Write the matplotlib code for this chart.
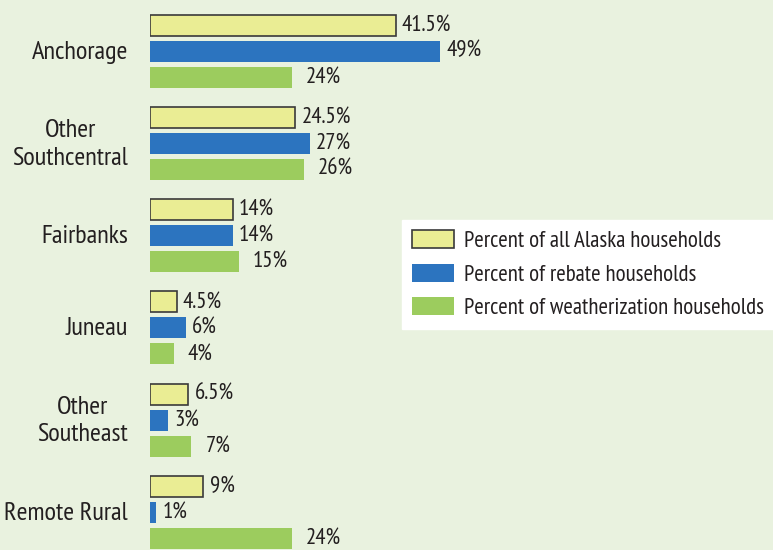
import numpy as np
import matplotlib.pyplot as plt

regions = ["Anchorage", "Other\nSouthcentral", "Fairbanks", "Juneau", "Other\nSoutheast", "Remote Rural"]
all_households = [41.5, 24.5, 14, 4.5, 6.5, 9]
rebate = [49, 27, 14, 6, 3, 1]
weatherization = [24, 26, 15, 4, 7, 24]
all_labels = ["41.5%", "24.5%", "14%", "4.5%", "6.5%", "9%"]
rebate_labels = ["49%", "27%", "14%", "6%", "3%", "1%"]
weather_labels = ["24%", "26%", "15%", "4%", "7%", "24%"]

bg = "#e9f2df"
ink = "#231f20"
plt.rcParams["font.family"] = ["PT Sans Narrow", "DejaVu Sans"]

fig = plt.figure(figsize=(7.73, 5.5), dpi=100, facecolor=bg)
# axes starts at the bars' left edge and runs to the right side of the figure
ax = fig.add_axes([150 / 773, 0, 1 - 150 / 773, 1])
ax.set_facecolor(bg)

step = 92.3  # px between groups
top = 51     # px from top to first group centre
off = 26 / step
h = 21 / step
y = np.arange(len(regions))

b1 = ax.barh(y - off, all_households, height=h, color="#eaed94", edgecolor="#3a3a3a", linewidth=1.2,
             label="Percent of all Alaska households")
b2 = ax.barh(y, rebate, height=h, color="#2c74bf", label="Percent of rebate households")
b3 = ax.barh(y + off, weatherization, height=h, color="#9ccc5e", label="Percent of weatherization households")

for bars, labs, pad in [(b1, all_labels, 4.5), (b2, rebate_labels, 4.5), (b3, weather_labels, 10)]:
    ax.bar_label(bars, labels=labs, padding=pad, fontsize=16.5, color=ink)

ax.set_xlim(0, 623 / 5.92)
ax.set_ylim((550 - top) / step, -top / step)

for i, r in enumerate(regions):
    ax.text(-22 / 5.92, i + 1 / step, r, ha="right", va="center", multialignment="center",
            fontsize=19, color=ink, linespacing=1.25)

for s in ax.spines.values():
    s.set_visible(False)
ax.set_xticks([])
ax.set_yticks([])

leg = ax.legend(loc="upper left", bbox_to_anchor=(402 / 773, 1 - 220 / 550), bbox_transform=fig.transFigure,
                fontsize=16.5, frameon=True, fancybox=False, borderaxespad=0, handlelength=1.83,
                handleheight=0.83, handletextpad=0.44, labelspacing=0.5, borderpad=0.45)
leg.get_frame().set_facecolor("white")
leg.get_frame().set_edgecolor("white")
leg.get_frame().set_alpha(1)
for t in leg.get_texts():
    t.set_color(ink)

fig.savefig("out.png", dpi=100, facecolor=bg)
